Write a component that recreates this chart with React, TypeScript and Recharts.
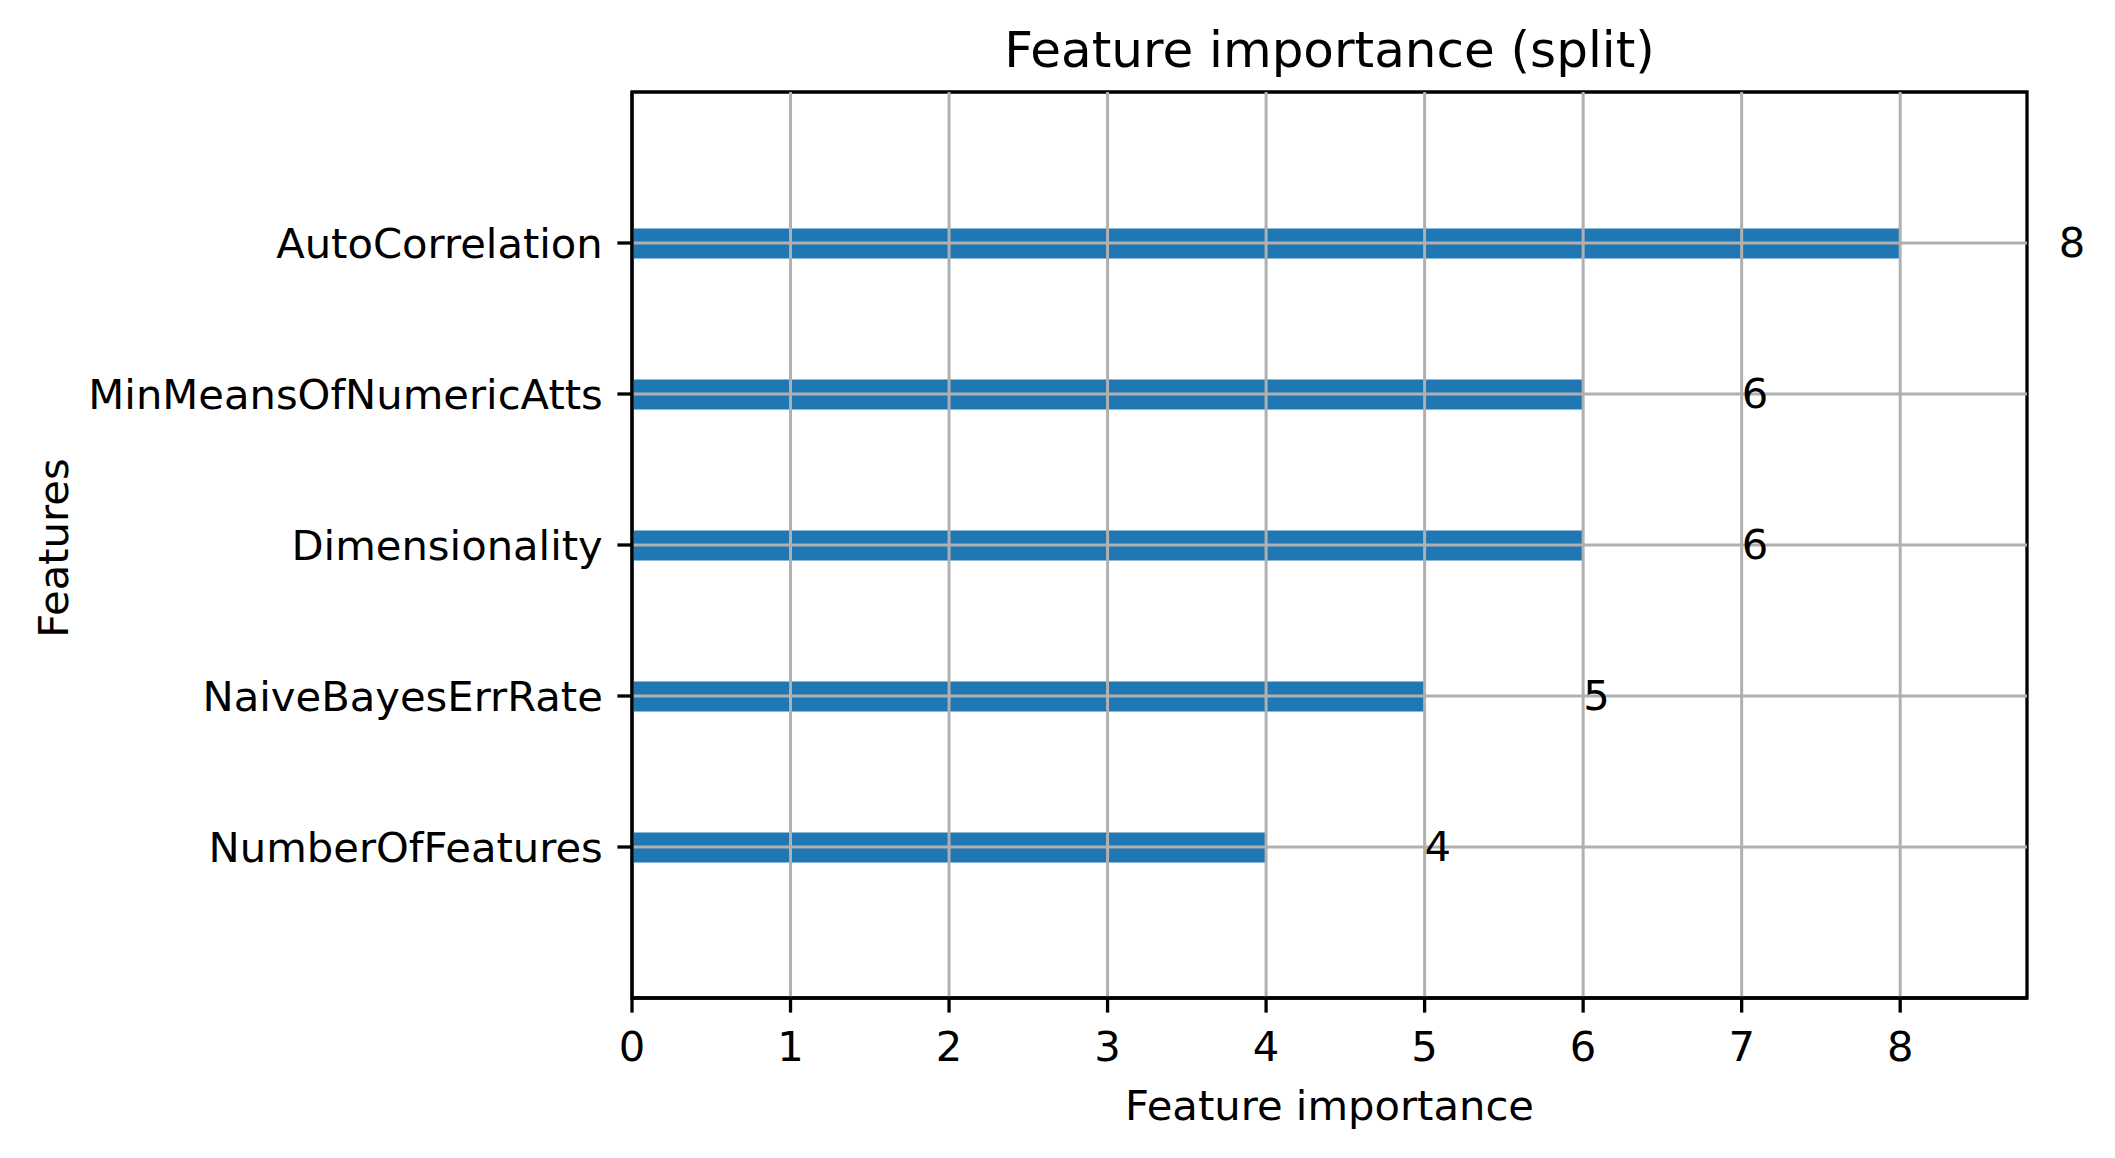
import React from 'react';
import { BarChart, Bar, XAxis, YAxis, LabelList, ReferenceArea, ReferenceLine } from 'recharts';

// bottom to top, as matplotlib's barh draws them
const features = ['NumberOfFeatures', 'NaiveBayesErrRate', 'Dimensionality', 'MinMeansOfNumericAtts', 'AutoCorrelation'];
const importance = [4, 5, 6, 6, 8];
const xTicks = [0, 1, 2, 3, 4, 5, 6, 7, 8];
const yTicks = [0, 1, 2, 3, 4];

const data = features.map((name, i) => ({ name, pos: i, importance: importance[i] }));

const FONT = 'DejaVu Sans';
const TICK_FS = 41.7;
const GRID = '#b0b0b0';

const ValueLabel = (props: any) => {
  const { x, y, width, height, value } = props;
  // text sits one unit to the right of the bar end
  const unit = width / value;
  return (
    <text x={x + width + unit} y={y + height / 2} dy="0.32em" fontFamily={FONT} fontSize={TICK_FS} fill="#000">
      {value}
    </text>
  );
};

export default function App() {
  return (
    <div style={{ position: 'fixed', left: 0, top: 0, width: 2115, height: 1158, background: '#fff' }}>
      <BarChart
        width={2115}
        height={1158}
        data={data}
        layout="vertical"
        margin={{ top: 92, right: 88, left: 0, bottom: 100 }}
      >
        <XAxis
          type="number"
          dataKey="importance"
          domain={[0, 8.8]}
          ticks={xTicks}
          height={60}
          interval={0}
          tickSize={14.6}
          tickMargin={19}
          axisLine={{ stroke: '#000', strokeWidth: 3.3 }}
          tickLine={{ stroke: '#000', strokeWidth: 3.3 }}
          tick={{ fill: '#000', fontFamily: FONT, fontSize: TICK_FS }}
        />
        <YAxis
          type="number"
          dataKey="pos"
          domain={[-1, 5]}
          reversed
          ticks={yTicks}
          interval={0}
          width={632}
          tickSize={14.6}
          tickMargin={14.6}
          tickFormatter={(v: number) => features[v]}
          axisLine={{ stroke: '#000', strokeWidth: 3.3 }}
          tickLine={{ stroke: '#000', strokeWidth: 3.3 }}
          tick={{ fill: '#000', fontFamily: FONT, fontSize: TICK_FS }}
        />
        <Bar dataKey="importance" fill="#1f77b4" barSize={30} isAnimationActive={false}>
          <LabelList dataKey="importance" content={ValueLabel} />
        </Bar>
        {xTicks.map((t) => (
          <ReferenceLine key={'gx' + t} x={t} stroke={GRID} strokeWidth={3} />
        ))}
        {yTicks.map((t) => (
          <ReferenceLine key={'gy' + t} y={t} stroke={GRID} strokeWidth={3} />
        ))}
        <ReferenceArea x1={0} x2={8.8} y1={-1} y2={5} fill="none" fillOpacity={0} stroke="#000" strokeWidth={3.3} ifOverflow="visible" />
        <text x={1329.5} y={67} textAnchor="middle" fontFamily={FONT} fontSize={50} fill="#000">
          Feature importance (split)
        </text>
        <text x={1329.5} y={1120} textAnchor="middle" fontFamily={FONT} fontSize={TICK_FS} fill="#000">
          Feature importance
        </text>
        <text x={68} y={548} textAnchor="middle" transform="rotate(-90, 68, 548)" fontFamily={FONT} fontSize={TICK_FS} fill="#000">
          Features
        </text>
      </BarChart>
    </div>
  );
}
